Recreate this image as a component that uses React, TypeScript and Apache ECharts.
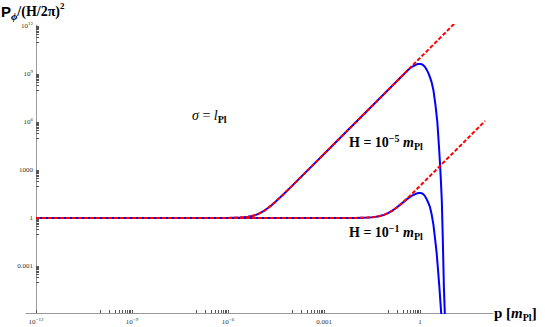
import React, { useEffect, useRef } from "react";
import * as echarts from "echarts";

// ---- data (momentum p in m_Pl, spectrum P_phi/(H/2pi)^2) ----
// H = 1e-5 m_Pl, full curve (blue)
const pBlueH5 = [1e-12, 1e-8, 1e-6, 2.37e-6, 3.16e-6, 4.22e-6, 5.62e-6, 7.5e-6, 1e-5, 1.33e-5, 1.78e-5, 2.37e-5, 3.16e-5, 5.62e-5, 1e-4, 1e-3, 0.1, 0.316, 0.447, 0.562, 0.708, 0.794, 0.891, 1, 1.12, 1.26, 1.41, 1.58, 1.78, 2.0, 2.29, 2.61, 3.02, 3.47, 3.72, 3.98, 4.22, 4.47, 4.79, 5.13, 5.56, 6.03];
const PBlueH5 = [1, 1, 1.01, 1.06, 1.1, 1.18, 1.32, 1.56, 2, 2.77, 4.16, 6.6, 11, 32.6, 101, 1e4, 1e8, 1e9, 1.95e9, 2.8e9, 3.6e9, 4e9, 4.2e9, 4.27e9, 4.1e9, 3.55e9, 2.8e9, 2e9, 1.25e9, 7.1e8, 3.2e8, 1e8, 1.26e7, 1e6, 1.26e5, 1.6e4, 2.2e3, 250, 12, 0.063, 5e-5, 5e-7];
// H = 1e-5 m_Pl, no cut-off (red dashed)
const pRedH5 = [1e-12, 1e-8, 1e-6, 2.37e-6, 3.16e-6, 4.22e-6, 5.62e-6, 7.5e-6, 1e-5, 1.33e-5, 1.78e-5, 2.37e-5, 3.16e-5, 5.62e-5, 1e-4, 1e-3, 0.1, 1, 12.6];
const PRedH5 = [1, 1, 1.01, 1.06, 1.1, 1.18, 1.32, 1.56, 2, 2.77, 4.16, 6.6, 11, 32.6, 101, 1e4, 1e8, 1e10, 1.6e12];
// H = 1e-1 m_Pl, full curve (blue)
const pBlueH1 = [1e-12, 1e-6, 1e-3, 0.01, 0.0237, 0.0316, 0.0422, 0.0562, 0.075, 0.1, 0.133, 0.178, 0.237, 0.316, 0.422, 0.562, 0.708, 0.794, 0.891, 1, 1.12, 1.26, 1.41, 1.58, 1.78, 2.04, 2.29, 2.61, 2.95, 3.31, 3.63, 3.98, 4.68];
const PBlueH1 = [1, 1, 1, 1.01, 1.06, 1.1, 1.18, 1.32, 1.56, 2, 2.77, 4.16, 6.6, 10.5, 16.8, 24.5, 31, 34, 36, 37, 35, 31, 24, 16, 9.6, 4.9, 1.8, 0.4, 0.05, 0.0063, 6.3e-4, 6.3e-5, 6.3e-7];
// H = 1e-1 m_Pl, no cut-off (red dashed)
const pRedH1 = [1e-12, 1e-6, 1e-3, 0.01, 0.0237, 0.0316, 0.0422, 0.0562, 0.075, 0.1, 0.133, 0.178, 0.237, 0.316, 0.562, 1, 10, 107];
const PRedH1 = [1, 1, 1, 1.01, 1.06, 1.1, 1.18, 1.32, 1.56, 2, 2.77, 4.16, 6.6, 11, 32.6, 101, 1e4, 1.15e6];

// axis decades (labelled, and decades subdivided by minor ticks)
const xMajorDecades = [-12, -9, -6, -3, 0];
const xMinorDecades = [-10, -7, -4, -1];
const yMajorDecades = [12, 9, 6, 3, 0, -3];
const yMinorDecades = [11, 8, 5, 2, -1, -4];

const X_MIN_LOG = -12.3125;
const X_MAX_LOG = 2.28;
const Y_MIN_LOG = -5.94;
const Y_MAX_LOG = 12.06;

const SERIF = '"Liberation Serif", "DejaVu Serif", serif';
const SANS = '"Liberation Sans", Arial, sans-serif';

function toLogPairs(p: number[], P: number[]) {
  return p.map((v, i) => [Math.log10(v), Math.log10(P[i])]);
}

function tickValues(major: number[], minor: number[]) {
  const out: number[] = [...major];
  minor.forEach((d) => {
    for (let k = 1; k <= 9; k++) out.push(d + Math.log10(k));
  });
  return out.sort((a, b) => a - b);
}

function decadeLabel(v: number) {
  const e = Math.round(v);
  if (e === 0) return "{b|1}";
  if (e === 3) return "{b|1000}";
  if (e === -3) return "{b|0.001}";
  const sup = e < 0 ? "\u2212" + Math.abs(e) : String(e);
  return "{b|10}{s|" + sup + "}";
}

const labelRich = {
  b: { fontFamily: SERIF, fontSize: 7, lineHeight: 10, color: "#333" },
  s: { fontFamily: SERIF, fontSize: 5, lineHeight: 5, verticalAlign: "top", color: "#333" },
};

function txt(x: number, y: number, text: string, rich: any) {
  return {
    type: "text",
    x,
    y,
    silent: true,
    style: {
      text,
      rich,
      fill: "#000",
      align: "left",
      verticalAlign: "middle",
      textAlign: "left",
      textVerticalAlign: "middle",
    },
  };
}

function lineSeries(name: string, p: number[], P: number[], color: string, dashed: boolean) {
  return {
    name,
    type: "line",
    data: toLogPairs(p, P),
    showSymbol: false,
    smooth: false,
    lineStyle: dashed ? { color, width: 2, type: [4, 2] } : { color, width: 2 },
    z: dashed ? 3 : 2,
  };
}

export default function App() {
  const ref = useRef<HTMLDivElement>(null);

  useEffect(() => {
    if (!ref.current) return;
    const chart = echarts.init(ref.current, null, { renderer: "svg" });

    const hRich = {
      b: { fontFamily: SERIF, fontWeight: "bold", fontSize: 14, lineHeight: 18, fill: "#000" },
      sup: { fontFamily: SERIF, fontWeight: "bold", fontSize: 10, lineHeight: 10, verticalAlign: "top", fill: "#000" },
      m: { fontFamily: SERIF, fontWeight: "bold", fontStyle: "italic", fontSize: 14, lineHeight: 18, fill: "#000" },
      sub: { fontFamily: SERIF, fontWeight: "bold", fontSize: 10, lineHeight: 13, verticalAlign: "bottom", fill: "#000" },
    };

    const option: any = {
      animation: false,
      backgroundColor: "#fff",
      grid: { left: 26, right: 52, top: 25, bottom: 14, outerBoundsMode: "none" },
      xAxis: {
        type: "value",
        min: X_MIN_LOG,
        max: X_MAX_LOG,
        axisLine: { onZero: false, lineStyle: { color: "#999", width: 1 } },
        axisTick: {
          show: true,
          inside: true,
          length: 3,
          customValues: tickValues(xMajorDecades, xMinorDecades),
          lineStyle: { color: "#555", width: 1 },
        },
        axisLabel: {
          show: true,
          margin: 4,
          customValues: xMajorDecades,
          formatter: decadeLabel,
          rich: labelRich,
        },
        splitLine: { show: false },
      },
      yAxis: {
        type: "value",
        min: Y_MIN_LOG,
        max: Y_MAX_LOG,
        offset: -10,
        axisLine: { show: true, onZero: false, lineStyle: { color: "#999", width: 1 } },
        axisTick: {
          show: true,
          inside: true,
          length: 3,
          customValues: tickValues(yMajorDecades, yMinorDecades),
          lineStyle: { color: "#555", width: 1 },
        },
        axisLabel: {
          show: true,
          margin: 3,
          customValues: yMajorDecades,
          formatter: decadeLabel,
          rich: labelRich,
        },
        splitLine: { show: false },
      },
      series: [
        lineSeries("H = 1e-5 (cut-off)", pBlueH5, PBlueH5, "#0000ff", false),
        lineSeries("H = 1e-1 (cut-off)", pBlueH1, PBlueH1, "#0000ff", false),
        lineSeries("H = 1e-5", pRedH5, PRedH5, "#ff0000", true),
        lineSeries("H = 1e-1", pRedH1, PRedH1, "#ff0000", true),
      ],
      graphic: [
        txt(1, 11, "{p|P}{phi|\u03d5}{t|/(H/2\u03c0)}{sup|2}", {
          p: { fontFamily: SANS, fontWeight: "bold", fontSize: 15, lineHeight: 20, fill: "#000" },
          phi: { fontFamily: SERIF, fontWeight: "bold", fontStyle: "italic", fontSize: 11, lineHeight: 12, verticalAlign: "bottom", fill: "#000" },
          t: { fontFamily: SERIF, fontWeight: "bold", fontSize: 14, lineHeight: 20, fill: "#000" },
          sup: { fontFamily: SERIF, fontWeight: "bold", fontSize: 9, lineHeight: 10, verticalAlign: "top", fill: "#000" },
        }),
        txt(494, 313, "{b|p [}{m|m}{sub|Pl}{b|]}", {
          b: { fontFamily: SERIF, fontWeight: "bold", fontSize: 15, lineHeight: 18, fill: "#000" },
          m: { fontFamily: SERIF, fontWeight: "bold", fontStyle: "italic", fontSize: 15, lineHeight: 18, fill: "#000" },
          sub: { fontFamily: SERIF, fontWeight: "bold", fontSize: 10, lineHeight: 13, verticalAlign: "bottom", fill: "#000" },
        }),
        txt(192, 115, "{i|\u03c3}{r| = }{i|l}{sub|Pl}", {
          i: { fontFamily: SERIF, fontStyle: "italic", fontSize: 14, lineHeight: 18, fill: "#000" },
          r: { fontFamily: SERIF, fontSize: 14, lineHeight: 18, fill: "#000" },
          sub: { fontFamily: SERIF, fontWeight: "bold", fontSize: 10, lineHeight: 13, verticalAlign: "bottom", fill: "#000" },
        }),
        txt(349, 142, "{b|H = 10}{sup|\u22125}{b| }{m|m}{sub|Pl}", hRich),
        txt(349, 232, "{b|H = 10}{sup|\u22121}{b| }{m|m}{sub|Pl}", hRich),
      ],
    };

    chart.setOption(option);
    return () => chart.dispose();
  }, []);

  return (
    <div
      ref={ref}
      style={{ position: "fixed", left: 0, top: 0, width: 545, height: 327, background: "#fff" }}
    />
  );
}
